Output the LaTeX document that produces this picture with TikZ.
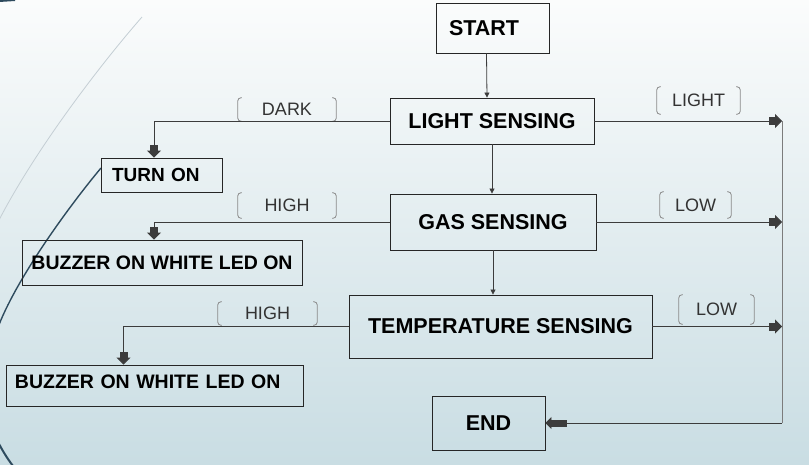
\documentclass[tikz,border=0pt]{standalone}
\usepackage{fontspec}
\setmainfont{Liberation Sans}
\usetikzlibrary{arrows.meta,calc}
\definecolor{ink}{HTML}{262626}
\definecolor{wire}{HTML}{3C3C3C}
\definecolor{railgray}{HTML}{7C7C7C}
\definecolor{tagtext}{HTML}{333333}
\definecolor{tagrule}{HTML}{8A8A8A}
\definecolor{bgtop}{HTML}{FBFCFC}
\definecolor{bgmid}{HTML}{E6EEF1}
\definecolor{bgbottom}{HTML}{C9DDE3}
\definecolor{swirl}{HTML}{2E4B5E}
\definecolor{swirllight}{HTML}{C4CED4}
\tikzset{
  box/.style={draw=ink,line width=.9pt,inner sep=0pt,align=center,
    font=\bfseries\fontsize{21.5}{24}\selectfont},
  smallbox/.style={box,font=\bfseries\fontsize{19.5}{22}\selectfont},
  tag/.style={inner sep=0pt,text=tagtext,font=\fontsize{18}{20}\selectfont},
  tagline/.style={draw=tagrule,line width=.8pt,rounded corners=3pt},
  flow/.style={-{Triangle[length=5pt,width=5pt]},draw=wire,line width=.8pt},
  branch/.style={-{Rectangle[length=6pt,width=8pt,sep=0pt]Triangle[length=7pt,width=14pt]},
    draw=wire,line width=.9pt},
  back/.style={-{Rectangle[length=15pt,width=7pt,sep=0pt]Triangle[length=6pt,width=12pt]},
    draw=wire,line width=.9pt},
}
% round brackets either side of a label
\newcommand{\tagframe}[1]{%
  \draw[tagline] ([xshift=4pt]#1.north west) -- (#1.north west) --
    (#1.south west) -- ([xshift=4pt]#1.south west);
  \draw[tagline] ([xshift=-4pt]#1.north east) -- (#1.north east) --
    (#1.south east) -- ([xshift=-4pt]#1.south east);}

\begin{document}
\begin{tikzpicture}[x=1pt,y=-1pt]
\useasboundingbox (0,0) rectangle (809,464);
\shade[top color=bgtop,middle color=bgmid,bottom color=bgbottom] (0,0) rectangle (809,464);

% slide decoration
\begin{scope}
  \clip (0,0) rectangle (809,464);
  \draw[swirllight,line width=.8pt] (142,17) .. controls (100,65) and (35,150) .. (-2,222);
  \draw[swirl,line width=1.4pt] (101,168) .. controls (70,205) and (15,280) .. (-3,330);
  \draw[swirl,line width=2pt] (-3,440) .. controls (2,450) and (7,458) .. (13,466);
  \draw[swirl,line width=2pt] (-1,1) -- (15,0);
\end{scope}

\node[box,text width=87pt,inner xsep=13pt,align=left,minimum height=50pt] (start) at (492.5,28) {START};
\node[box,minimum width=204pt,minimum height=46pt] (light) at (492,121) {LIGHT SENSING};
\node[box,minimum width=206pt,minimum height=56pt] (gas) at (493,222) {GAS SENSING};
\node[box,minimum width=303pt,minimum height=63pt] (temp) at (500.5,326.5) {TEMPERATURE SENSING};
\node[box,minimum width=113pt,minimum height=54pt] (stop) at (488.5,423) {END};

\node[smallbox,font=\bfseries\fontsize{19}{22}\selectfont,text width=99pt,inner xsep=11pt,
  align=left,minimum height=34pt] (turnon) at (161.5,175) {TURN ON};
\node[smallbox,minimum width=280pt,minimum height=45pt] (buzzgas) at (162,262.5)
  {BUZZER ON WHITE LED ON};
\node[smallbox,text width=279pt,inner xsep=9pt,align=left,text depth=8pt,
  minimum height=41pt] (buzztemp) at (154.5,385.5) {BUZZER ON WHITE LED ON};

\node[tag,minimum width=98pt,minimum height=23pt] (dark) at (287,109.5) {DARK};
\node[tag,minimum width=98pt,minimum height=25pt] (gashigh) at (287,205.5) {HIGH};
\node[tag,minimum width=99pt,minimum height=23pt] (temphigh) at (267.5,313.5) {HIGH};
\node[tag,minimum width=83pt,minimum height=27pt] (bright) at (698.5,100.5) {LIGHT};
\node[tag,minimum width=71pt,minimum height=26pt] (gaslow) at (695.5,205) {LOW};
\node[tag,minimum width=75pt,minimum height=29pt] (templow) at (716.5,309.5) {LOW};
\tagframe{dark}
\tagframe{gashigh}
\tagframe{temphigh}
\tagframe{bright}
\tagframe{gaslow}
\tagframe{templow}

\draw[flow] ([xshift=-6pt]start.south) -- ([xshift=-5pt]light.north);
\draw[flow] (light.south) -- (light.south |- gas.north);
\draw[flow] (gas.south) -- (gas.south |- temp.north);

\draw[branch] (light.west) -| ([xshift=-7.5pt]turnon.north);
\draw[branch] (gas.west) -| ([xshift=-8pt]buzzgas.north);
\draw[branch] (temp.west) -| ([xshift=-31pt]buzztemp.north);

\coordinate (railtop) at (782,121);
\coordinate (railbottom) at (782,423);
\draw[branch] (light.east) -- (light.east -| railtop);
\draw[branch] (gas.east) -- (gas.east -| railtop);
\draw[branch] (temp.east) -- (temp.east -| railtop);
\draw[draw=railgray,line width=.9pt] (railtop) -- (railbottom);
\draw[back] (railbottom) -- (stop.east);
\end{tikzpicture}
\end{document}
